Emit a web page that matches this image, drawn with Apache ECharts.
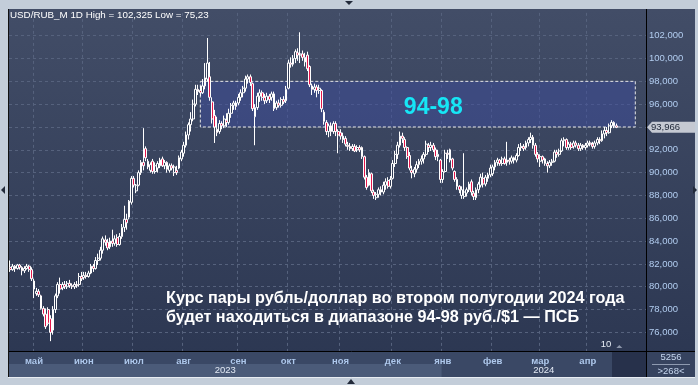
<!DOCTYPE html>
<html><head><meta charset="utf-8">
<script src="https://cdn.jsdelivr.net/npm/echarts@6/dist/echarts.min.js"></script>
<style>html,body{margin:0;padding:0;background:#c3cdd9}#c{width:698px;height:385px}</style>
</head><body><div id="c"></div>
<script>
const FONT = '"Liberation Sans", Arial, sans-serif';
const titleText = 'USD/RUB_M 1D High = 102,325 Low = 75,23';
const monthNames = ['апр','май','июн','июл','авг','сен','окт','ноя','дек','янв','фев','мар','апр'];
const monthYears = [2023,2023,2023,2023,2023,2023,2023,2023,2023,2024,2024,2024,2024];
const yearNames = ['2023','2024'];
// [open, close, low, high]
const apr23 = [[81.7,81.5,81.3,82.3],[81.5,81.8,81.4,82.0],[81.8,81.6,81.3,81.9],[81.6,81.9,81.5,82.0],[81.9,81.7,81.5,82.0],[81.7,81.4,81.0,81.8],[81.4,81.6,81.2,81.8],[81.6,81.8,81.5,82.0],[81.8,81.5,81.3,81.9],[81.5,80.7,80.5,81.7]];
const may23 = [[80.5,79.8,79.0,80.7],[79.4,79.6,79.2,79.9],[79.6,79.3,79.1,79.8],[79.2,78.1,78.0,79.3],[78.1,77.6,77.4,78.3],[77.6,76.5,76.3,78.1],[78.0,76.8,76.6,78.2],[77.2,76.0,75.23,77.5],[76.2,78.0,75.8,78.3],[78.0,79.2,77.7,79.4],[79.2,80.2,79.0,80.4],[80.2,79.8,79.4,80.8],[79.9,80.2,79.7,80.4],[80.2,80.0,79.8,80.5],[80.0,80.3,79.8,80.5],[80.3,80.1,79.9,80.6],[80.1,80.0,79.8,80.3],[80.0,80.2,79.8,80.4],[80.2,80.1,79.9,80.5],[80.2,80.9,80.0,81.2],[80.9,80.7,80.5,81.3]];
const jun23 = [[80.8,81.0,80.6,81.3],[81.0,80.9,80.7,81.3],[80.9,81.2,80.8,81.4],[81.2,81.8,81.1,82.0],[81.8,81.6,81.3,82.0],[81.6,82.3,81.5,82.6],[82.3,82.5,81.9,82.9],[82.5,83.2,82.3,83.5],[83.2,84.2,82.9,84.4],[84.1,83.9,83.6,84.5],[83.9,83.4,83.2,84.2],[83.5,84.0,83.3,84.3],[84.0,83.8,83.5,85.0],[83.8,84.2,83.6,84.5],[84.3,83.7,83.5,84.6],[83.7,84.4,83.6,84.7],[84.4,85.2,84.2,85.5],[85.2,85.9,84.8,87.1],[85.9,85.6,85.0,86.4],[86.1,87.5,85.9,87.6],[87.4,89.5,87.2,89.7]];
const jul23 = [[89.5,88.9,88.7,89.7],[88.4,88.9,88.2,89.0],[88.9,90.0,88.8,90.2],[90.0,90.9,89.8,91.1],[90.9,90.6,90.2,93.9],[92.1,91.3,91.0,92.3],[90.5,91.0,90.3,91.2],[90.2,90.7,90.0,90.9],[91.0,90.1,89.9,91.2],[90.1,90.6,89.9,90.9],[90.4,90.8,90.0,91.0],[90.6,91.1,90.4,91.3],[91.2,90.6,90.5,91.4],[90.6,90.9,90.3,91.1],[90.9,90.3,90.0,91.0],[90.2,90.6,90.0,90.8],[90.6,90.4,90.2,90.8],[90.0,90.5,89.7,90.7],[90.2,90.0,89.8,90.6],[90.4,91.3,90.3,91.5],[91.2,91.8,91.0,92.0]];
const aug23 = [[91.7,92.4,91.4,92.7],[92.4,93.3,92.2,93.6],[93.3,94.2,92.9,94.4],[94.2,94.7,93.6,95.3],[94.7,96.0,94.5,96.4],[96.0,97.3,95.8,97.7],[97.3,97.1,96.8,97.7],[97.2,97.0,96.7,97.6],[97.0,97.6,96.9,98.2],[97.6,98.3,97.3,99.6],[98.2,99.6,98.0,101.8],[98.4,96.6,96.3,99.7],[96.2,94.7,94.3,96.6],[95.0,94.0,92.6,95.5],[93.8,93.5,93.2,94.9],[93.6,94.3,93.4,94.6],[94.3,94.1,93.8,94.5],[94.1,94.7,93.9,95.0],[94.6,94.4,94.0,95.2],[94.4,95.2,94.2,95.6],[95.2,95.9,94.8,96.1],[95.9,96.1,95.5,96.3],[96.1,95.8,95.5,96.3]];
const sep23 = [[96.1,96.6,95.9,96.9],[96.6,97.0,96.3,97.3],[97.0,97.4,96.6,97.6],[97.4,98.2,97.1,98.5],[98.2,98.4,97.8,98.6],[98.4,97.9,97.6,98.6],[97.8,95.6,95.4,97.9],[94.9,95.7,92.4,96.0],[95.7,96.7,95.5,97.0],[96.7,97.0,96.2,97.3],[97.0,96.6,96.3,97.2],[96.6,96.3,96.0,96.9],[96.3,96.7,96.1,97.0],[96.7,96.4,96.1,96.9],[96.6,96.9,96.3,97.1],[96.9,95.6,95.4,97.1],[95.7,96.1,95.5,96.3],[96.1,95.9,95.7,96.4],[95.9,96.4,95.7,96.6],[96.4,96.2,96.0,96.7],[96.3,97.3,96.1,97.6]];
const oct23 = [[97.4,99.6,97.3,99.9],[99.6,99.5,99.2,100.1],[99.5,100.0,99.3,100.3],[100.0,100.6,99.6,100.8],[100.5,100.3,99.8,100.9],[100.3,100.4,99.6,102.3],[100.4,100.1,99.8,100.7],[100.1,99.7,99.3,100.5],[100.3,99.1,98.9,100.6],[99.3,97.7,97.5,99.4],[97.6,97.3,96.8,97.8],[97.3,97.5,97.0,97.8],[97.5,97.2,96.6,97.7],[97.2,97.4,96.9,97.7],[97.2,95.6,95.3,97.3],[95.3,94.5,94.2,95.5],[94.4,93.6,93.3,94.6],[93.6,94.1,93.1,94.3],[94.1,93.6,93.2,94.4],[93.6,94.3,93.4,94.5],[94.3,93.6,93.2,94.5],[93.6,93.3,91.7,93.8]];
const nov23 = [[93.5,93.2,92.9,93.8],[93.2,92.9,92.6,93.5],[93.0,92.5,92.3,93.2],[92.4,92.3,92.0,92.7],[92.3,92.1,91.9,92.6],[92.1,92.3,91.9,92.5],[92.3,91.9,91.8,92.5],[92.0,92.2,91.8,92.4],[92.2,92.0,91.8,92.4],[92.2,91.4,91.2,92.3],[91.4,89.6,89.4,91.5],[89.6,88.7,88.5,89.8],[88.9,90.0,88.8,90.3],[89.9,88.4,88.2,90.0],[88.3,88.0,87.7,88.5],[87.8,88.1,87.6,88.3],[88.1,88.5,87.8,88.7],[88.5,88.3,88.0,88.8],[88.3,88.9,88.1,89.2],[88.9,89.2,88.5,89.5],[89.3,88.8,88.6,89.6],[88.8,89.4,88.6,89.7]];
const dec23 = [[89.5,90.8,89.4,91.1],[90.8,91.6,90.5,91.9],[91.6,92.4,91.2,92.7],[92.4,93.2,92.2,93.6],[93.2,93.0,92.6,93.5],[92.9,92.2,91.9,93.1],[92.2,91.4,91.2,92.3],[91.5,90.4,90.2,91.8],[90.2,90.0,89.5,90.6],[89.9,90.3,89.6,90.5],[90.3,90.7,90.0,91.0],[90.7,91.0,90.4,91.2],[91.0,91.2,90.7,91.5],[91.2,91.6,90.8,91.8],[91.6,92.5,91.4,92.8],[92.4,92.2,91.8,92.6],[92.2,92.4,91.9,92.7],[92.4,92.0,91.8,92.6],[92.0,91.4,91.1,92.2],[91.4,91.6,91.0,92.0],[91.1,89.4,89.1,91.2]];
const jan24 = [[89.4,90.1,89.1,90.3],[90.1,91.7,90.0,92.0],[91.7,91.6,91.2,92.0],[92.0,91.1,90.9,92.1],[91.2,90.4,90.2,91.3],[90.1,89.4,89.2,90.2],[89.4,88.8,88.5,89.6],[88.8,88.5,88.2,88.9],[88.0,88.5,87.7,88.8],[87.9,88.3,87.7,91.7],[88.2,88.5,87.9,88.7],[88.5,89.0,88.3,89.2],[89.2,88.3,88.0,89.4],[88.2,87.9,87.6,88.4],[87.8,88.5,87.6,88.7],[88.5,89.0,88.2,89.2],[88.9,89.6,88.7,89.9],[89.5,89.0,88.7,90.0],[89.0,89.6,88.8,89.8],[89.5,89.8,89.2,90.0],[89.8,90.4,89.6,90.7]];
const feb24 = [[89.9,90.5,89.7,90.7],[90.5,90.9,90.2,91.1],[90.9,91.1,90.6,91.3],[91.1,90.8,90.6,91.2],[90.8,91.2,90.6,91.4],[91.2,90.8,90.7,91.4],[90.9,91.1,90.6,92.7],[91.1,91.0,90.7,91.3],[91.0,91.3,90.8,91.5],[91.3,91.1,90.8,91.4],[91.1,91.5,90.9,91.7],[91.5,92.2,91.4,92.5],[92.2,92.3,91.9,92.6],[92.3,92.1,91.9,92.5],[92.2,92.6,92.0,92.8],[92.6,92.9,92.3,93.1],[92.9,93.1,92.6,93.5],[93.1,92.4,92.1,93.3],[92.4,91.6,91.4,92.6],[91.6,91.2,90.9,91.8]];
const mar24 = [[91.0,91.4,90.5,91.6],[91.4,91.1,90.8,91.5],[91.2,90.8,90.6,91.3],[90.8,90.6,90.0,91.0],[90.6,90.9,90.4,91.1],[90.9,91.0,90.6,91.2],[91.0,91.8,90.9,92.0],[91.8,91.6,91.3,92.0],[91.6,91.9,91.4,92.1],[91.9,92.8,91.8,93.0],[92.8,92.9,92.3,93.1],[92.9,92.2,92.0,93.0],[92.2,92.5,92.0,92.7],[92.5,92.2,92.0,92.7],[92.3,92.6,92.1,92.8],[92.6,92.4,92.2,92.8],[92.4,92.1,91.9,92.6],[92.1,92.4,91.9,92.6],[92.4,92.2,92.0,92.5],[92.2,92.4,92.0,92.6]];
const apr24 = [[92.4,92.6,92.2,92.8],[92.6,92.5,92.3,92.8],[92.5,92.3,92.1,92.7],[92.3,92.6,92.1,92.8],[92.6,92.9,92.4,93.1],[92.9,92.8,92.5,93.1],[92.8,93.4,92.7,93.7],[93.4,93.7,93.0,94.0],[93.7,93.5,93.2,94.0],[93.5,94.1,93.4,94.3],[94.1,94.4,93.9,94.6],[94.4,94.1,93.9,94.5],[94.1,93.966,93.9,94.3]];
const monthData = [apr23,may23,jun23,jul23,aug23,sep23,oct23,nov23,dec23,jan24,feb24,mar24,apr24];
const emptySlots = 12;
const yMin = 74, yMax = 104, yStep = 2;
const rangeLow = 94, rangeHigh = 98, rangeLabel = '94-98';
const rangeStart = {month: 4, day: 7};
const rangeEndEmptySlot = 8;
const rangeLabelAt = {month: 8, day: 17, value: 95.7};
const noteLines = ['Курс пары рубль/доллар во втором полугодии 2024 года', 'будет находиться в диапазоне 94-98 руб./$1 — ПСБ'];
const lastPrice = 93.966;
const barsTotal = '5256', barsVisible = '>268<';
const markerText = '10';

// build categories / data
const cats = [], data = [], monthStart = new Set(), monthOffset = [];
monthData.forEach((arr, m) => {
  monthOffset.push(cats.length);
  arr.forEach((d, k) => {
    if (k === 0 && m > 0) monthStart.add(cats.length);
    cats.push(monthNames[m] + ' ' + monthYears[m] + ' ' + (k + 1));
    data.push(d);
  });
});
const nData = cats.length;
for (let i = 0; i < emptySlots; i++) cats.push('+' + (i + 1));

const fmt = v => v.toFixed(3).replace('.', ',');
const chart = echarts.init(document.getElementById('c'), null, {renderer: 'canvas'});
const option = {
  animation: false,
  backgroundColor: '#c3cdd9',
  grid: {left: 9, right: 52, top: 12.88, bottom: 29.8, containLabel: false},
  xAxis: {
    type: 'category', data: cats, boundaryGap: true,
    axisLine: {show: false}, axisTick: {show: false},
    axisLabel: {interval: (i) => monthStart.has(i), formatter: v => v.split(' ')[0],
      color: '#aec8ec', fontSize: 9.5, fontWeight: 'bold', fontFamily: FONT, margin: 1},
    splitLine: {show: true, interval: (i) => monthStart.has(i),
      lineStyle: {color: '#56627d', type: [3, 3], width: 1}}
  },
  yAxis: {
    type: 'value', position: 'right', min: yMin, max: yMax, interval: yStep, scale: false,
    axisLine: {show: false}, axisTick: {show: false},
    axisLabel: {showMinLabel: false, showMaxLabel: false, formatter: fmt, color: '#b2cdf0',
      fontSize: 9.5, fontFamily: FONT, margin: 3},
    splitLine: {show: true, showMinLine: false, showMaxLine: false,
      lineStyle: {color: '#56627d', type: [3, 3], width: 1}}
  },
  series: [{
    type: 'candlestick', data: data, barWidth: 2.3,
    itemStyle: {color: '#2f3a54', color0: '#e3164a', borderColor: '#ffffff', borderColor0: '#ffffff', borderWidth: 1},
    markArea: {
      silent: true,
      label: {show: false},
      itemStyle: {color: 'rgba(62,78,165,0.45)', borderColor: '#e6e6e6', borderWidth: 1, borderType: [3, 2]},
      data: [[{xAxis: cats[monthOffset[rangeStart.month] + rangeStart.day], yAxis: rangeHigh},
              {xAxis: cats[nData + rangeEndEmptySlot - 1], yAxis: rangeLow}]]
    }
  }]
};
chart.setOption(option);

const px = i => chart.convertToPixel({xAxisIndex: 0}, cats[i]);
const py = v => chart.convertToPixel({yAxisIndex: 0}, v);
const slot = px(1) - px(0);
const plotL = px(0) - slot / 2, plotR = px(cats.length - 1) + slot / 2;
const axisY = 351;
const janIdx = monthOffset[monthYears.indexOf(2024)];
const yearSplit = px(janIdx) - slot / 2;
const darkX = 612;
const yP = py(lastPrice);
const lastX = px(nData - 1);
const lbl = [px(monthOffset[rangeLabelAt.month] + rangeLabelAt.day), py(rangeLabelAt.value)];

const g = [];
g.push({type: 'rect', z: -100, shape: {x: 8, y: 9, width: 687, height: 368},
  style: {fill: new echarts.graphic.LinearGradient(0, 0, 0, 1, [{offset: 0, color: '#424d67'}, {offset: 1, color: '#2b3651'}])}});
g.push({type: 'rect', z: -50, shape: {x: plotL, y: axisY, width: plotR - plotL, height: 26}, style: {fill: '#3a4865'}});
g.push({type: 'rect', z: 20, shape: {x: plotL, y: axisY, width: plotR - plotL, height: 4.4}, style: {fill: '#3a4865'}});
g.push({type: 'rect', z: -40, shape: {x: plotL, y: 364, width: yearSplit - plotL, height: 13}, style: {fill: '#4b5b79'}});
g.push({type: 'rect', z: 21, shape: {x: darkX, y: axisY, width: plotR - darkX, height: 26}, style: {fill: '#27314b'}});
g.push({type: 'rect', z: -50, shape: {x: plotR, y: axisY, width: 695 - plotR, height: 26}, style: {fill: '#36435f'}});
g.push({type: 'line', z: 30, shape: {x1: plotR + 0.5, y1: 9, x2: plotR + 0.5, y2: 377}, style: {stroke: '#000', lineWidth: 1}});
g.push({type: 'line', z: 30, shape: {x1: 8, y1: axisY + 0.5, x2: 695, y2: axisY + 0.5}, style: {stroke: '#000', lineWidth: 1}});
g.push({type: 'line', z: 30, shape: {x1: 8.5, y1: 9, x2: 8.5, y2: 377}, style: {stroke: '#111', lineWidth: 1}});
g.push({type: 'line', z: 30, shape: {x1: 8, y1: 377.5, x2: 695, y2: 377.5}, style: {stroke: '#e8edf3', lineWidth: 1}});
// title
g.push({type: 'text', z: 30, x: 10, y: 15.5, style: {text: titleText, fill: '#ffffff', font: '9.8px ' + FONT, align: 'left', verticalAlign: 'middle'}});
// year labels
g.push({type: 'text', z: 30, x: (plotL + yearSplit) / 2, y: 370.5, style: {text: yearNames[0], fill: '#e2e9f4', font: '9.5px ' + FONT, align: 'center', verticalAlign: 'middle'}});
g.push({type: 'text', z: 30, x: (yearSplit + plotR) / 2, y: 370.5, style: {text: yearNames[1], fill: '#e2e9f4', font: '9.5px ' + FONT, align: 'center', verticalAlign: 'middle'}});
// right box
g.push({type: 'text', z: 30, x: 671, y: 357.5, style: {text: barsTotal, fill: '#c6d6ee', font: '9.5px ' + FONT, align: 'center', verticalAlign: 'middle'}});
g.push({type: 'line', z: 30, shape: {x1: 652, y1: 364.5, x2: 690, y2: 364.5}, style: {stroke: '#8e9ab0', lineWidth: 1}});
g.push({type: 'text', z: 30, x: 671, y: 371, style: {text: barsVisible, fill: '#c6d6ee', font: '9.5px ' + FONT, align: 'center', verticalAlign: 'middle'}});
// price label
g.push({type: 'polygon', z: 30, shape: {points: [[plotR + 1, yP], [plotR + 6, yP - 5.5], [695, yP - 5.5], [695, yP + 5.5], [plotR + 6, yP + 5.5]]}, style: {fill: '#c5c9d2'}});
g.push({type: 'text', z: 31, x: plotR + 5, y: yP + 0.5, style: {text: fmt(lastPrice), fill: '#1c2536', font: '9.5px ' + FONT, align: 'left', verticalAlign: 'middle'}});
// range label
g.push({type: 'text', z: 30, x: lbl[0], y: lbl[1], style: {text: rangeLabel, fill: '#16e6f6', font: 'bold 23px ' + FONT, align: 'center', verticalAlign: 'middle'}});
// note
g.push({type: 'text', z: 30, x: 166, y: 299, style: {text: noteLines[0], fill: '#ffffff', font: 'bold 16.2px ' + FONT, align: 'left', verticalAlign: 'middle'}});
g.push({type: 'text', z: 30, x: 166, y: 317.5, style: {text: noteLines[1], fill: '#ffffff', font: 'bold 16.2px ' + FONT, align: 'left', verticalAlign: 'middle'}});
// marker
g.push({type: 'text', z: 30, x: lastX - 5, y: 344.5, style: {text: markerText, fill: '#e8eef6', font: '9.5px ' + FONT, align: 'right', verticalAlign: 'middle'}});
g.push({type: 'polygon', z: 30, shape: {points: [[lastX, 348], [lastX + 6, 348], [lastX + 3, 345]]}, style: {fill: '#8d97aa'}});
// frame chrome
g.push({type: 'polygon', z: 30, shape: {points: [[345, 1], [353, 1], [349, 5]]}, style: {fill: '#222a3a'}});
g.push({type: 'polygon', z: 30, shape: {points: [[347, 384], [355, 384], [351, 379]]}, style: {fill: '#222a3a'}});
g.push({type: 'polygon', z: 30, shape: {points: [[5, 186], [1, 190], [5, 194]]}, style: {fill: '#222a3a'}});
g.push({type: 'polygon', z: 30, shape: {points: [[693, 186], [697, 190], [693, 194]]}, style: {fill: '#222a3a'}});
chart.setOption({graphic: g});
</script></body></html>
